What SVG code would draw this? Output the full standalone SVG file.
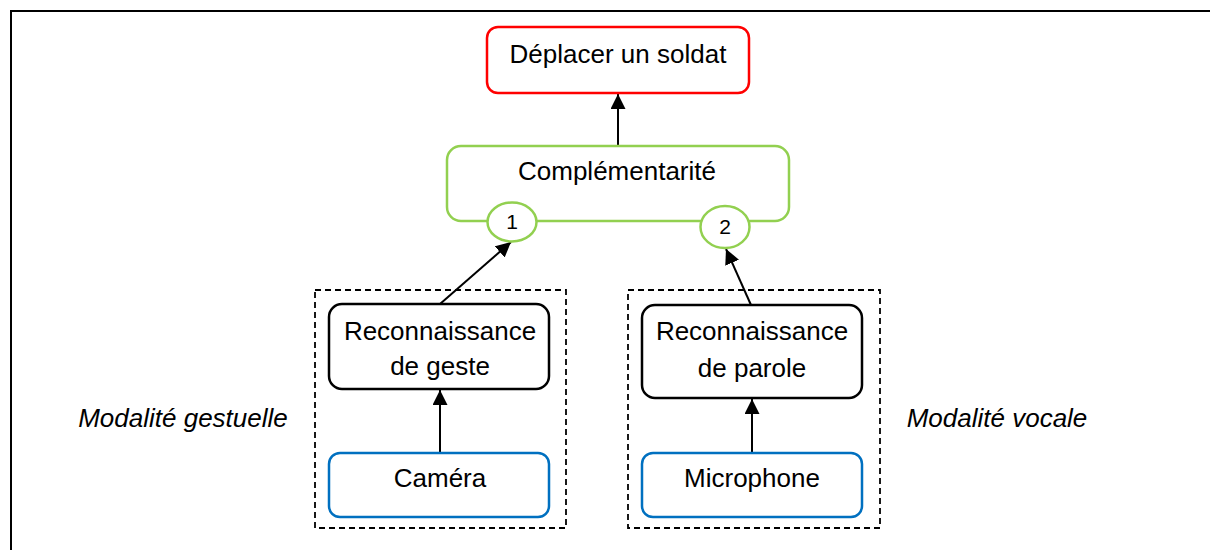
<svg xmlns="http://www.w3.org/2000/svg" width="1210" height="550" viewBox="0 0 1210 550">
<style>
text{font-family:"Liberation Sans",Arial,sans-serif;font-size:26px;fill:#000;text-anchor:middle}
.it{font-style:italic}
.num{font-size:21px}
.red{fill:#fff;stroke:#ff0000;stroke-width:2.5}
.green{fill:#fff;stroke:#92d050;stroke-width:2.5}
.black{fill:#fff;stroke:#000;stroke-width:2.5}
.blue{fill:#fff;stroke:#0070c0;stroke-width:2.5}
.dash{fill:none;stroke:#000;stroke-width:1.8;stroke-dasharray:6 4}
.conn{stroke:#000;stroke-width:2;fill:none;marker-end:url(#ah)}
</style>
<defs>
<marker id="ah" viewBox="0 0 10 10" refX="10" refY="5" markerWidth="15" markerHeight="15" markerUnits="userSpaceOnUse" orient="auto">
<path d="M0,0 L10,5 L0,10 z" fill="#000"/>
</marker>
</defs>
<rect x="0" y="0" width="1210" height="550" fill="#fff"/>
<path d="M11,551 V11 H1211" fill="none" stroke="#000" stroke-width="2"/>

<g id="modalite-gestuelle">
<rect class="dash" x="315" y="290" width="251" height="238"/>
<text class="it" x="183" y="427">Modalité gestuelle</text>
</g>
<g id="modalite-vocale">
<rect class="dash" x="628" y="290" width="252" height="238"/>
<text class="it" x="997" y="427">Modalité vocale</text>
</g>

<g id="connectors">
<line class="conn" x1="618" y1="146" x2="618" y2="94"/>
<line class="conn" x1="440" y1="304" x2="511" y2="242"/>
<line class="conn" x1="751" y1="305" x2="726" y2="249"/>
<line class="conn" x1="440" y1="453" x2="440" y2="390"/>
<line class="conn" x1="752" y1="453" x2="752" y2="399"/>
</g>

<g id="deplacer">
<rect class="red" x="487" y="27" width="262" height="66" rx="11"/>
<text x="618" y="63">Déplacer un soldat</text>
</g>

<g id="complementarite">
<rect class="green" x="447" y="146" width="342" height="75" rx="14"/>
<text x="617" y="180">Complémentarité</text>
</g>
<g id="port1">
<ellipse class="green" cx="512" cy="222" rx="24.5" ry="19.5"/>
<text class="num" x="512" y="229">1</text>
</g>
<g id="port2">
<ellipse class="green" cx="725" cy="227" rx="24.5" ry="21"/>
<text class="num" x="725" y="234">2</text>
</g>

<g id="reco-geste">
<rect class="black" x="329" y="304" width="220" height="85" rx="13"/>
<text x="440" y="340">Reconnaissance</text>
<text x="440" y="375">de geste</text>
</g>
<g id="reco-parole">
<rect class="black" x="642" y="305" width="220" height="93" rx="13"/>
<text x="752" y="340">Reconnaissance</text>
<text x="752" y="377">de parole</text>
</g>

<g id="camera">
<rect class="blue" x="329" y="453" width="220" height="64" rx="11"/>
<text x="440" y="487">Caméra</text>
</g>
<g id="microphone">
<rect class="blue" x="642" y="453" width="220" height="64" rx="11"/>
<text x="752" y="487">Microphone</text>
</g>
</svg>
